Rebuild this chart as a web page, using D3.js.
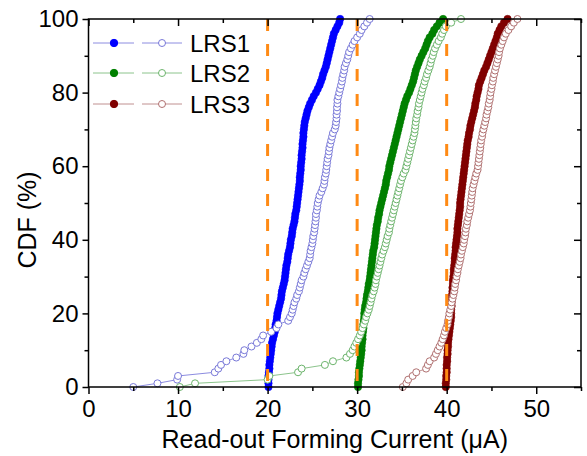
<!DOCTYPE html>
<html><head><meta charset="utf-8">
<script src="https://cdn.jsdelivr.net/npm/d3@7/dist/d3.min.js"></script>
<style>
body{margin:0;background:#fff}
svg{display:block}
text{font-family:"Liberation Sans",Arial,Helvetica,sans-serif;fill:#000}
</style>
</head><body>
<svg id="chart" width="587" height="456"></svg>
<script>
// ---- data (x = read-out forming current in uA, sorted; CDF from rank) ----
const seriesNames = ["LRS1", "LRS2", "LRS3"];

const lrs1Filled = [20.1,20.1,20.1,20.1,20.15,20.2,20.2,20.25,20.3,20.35,
  20.4,20.45,20.5,20.6,20.7,20.8,20.85,20.9,21.0,21.05,
  21.1,21.2,21.3,21.4,21.5,21.55,21.6,21.7,21.8,21.9,
  21.95,22.0,22.05,22.1,22.2,22.25,22.3,22.4,22.5,22.55,
  22.6,22.7,22.75,22.8,22.9,23.0,23.05,23.1,23.2,23.25,
  23.3,23.35,23.4,23.45,23.5,23.55,23.6,23.6,23.65,23.7,
  23.7,23.75,23.8,23.8,23.85,23.9,23.9,23.95,24.0,24.0,
  24.05,24.1,24.15,24.25,24.35,24.45,24.6,24.75,24.95,25.15,
  25.4,25.6,25.8,25.95,26.1,26.2,26.35,26.5,26.6,26.7,
  26.8,26.9,27.0,27.1,27.2,27.3,27.4,27.6,27.8,28.0,28.1];

const lrs1Open = [5.0,7.7,9.9,10.0,14.1,14.5,14.8,15.4,16.5,17.3,
  17.4,18.2,18.8,19.3,19.5,20.4,21.0,21.2,22.3,22.5,
  22.7,22.8,22.9,23.0,23.2,23.3,23.5,23.6,23.7,23.8,
  24.0,24.1,24.25,24.4,24.55,24.7,24.75,24.8,24.9,25.0,
  25.05,25.1,25.2,25.25,25.3,25.35,25.4,25.4,25.5,25.55,
  25.6,25.7,25.8,26.0,26.15,26.3,26.35,26.4,26.5,26.55,
  26.6,26.65,26.7,26.8,26.85,26.9,27.0,27.1,27.2,27.3,
  27.5,27.6,27.65,27.7,27.7,27.75,27.75,27.8,27.8,27.9,
  28.0,28.1,28.2,28.3,28.35,28.45,28.55,28.6,28.75,28.9,
  29.0,29.1,29.3,29.5,29.7,30.0,30.3,30.5,30.8,31.1,31.4];

const lrs2Filled = [30.1,30.1,30.15,30.2,30.2,30.25,30.3,30.35,30.4,30.45,
  30.5,30.5,30.55,30.6,30.6,30.65,30.7,30.7,30.75,30.8,
  30.8,30.85,30.9,31.0,31.05,31.1,31.2,31.25,31.3,31.4,
  31.45,31.5,31.55,31.6,31.65,31.7,31.75,31.8,31.9,31.95,
  32.0,32.05,32.1,32.15,32.2,32.3,32.35,32.45,32.5,32.6,
  32.7,32.8,32.9,33.0,33.1,33.2,33.25,33.35,33.45,33.55,
  33.6,33.7,33.8,33.9,34.0,34.1,34.2,34.3,34.4,34.5,
  34.6,34.7,34.8,34.9,35.0,35.1,35.2,35.3,35.45,35.6,
  35.8,35.95,36.1,36.25,36.35,36.45,36.55,36.7,36.85,37.0,
  37.2,37.4,37.6,37.75,37.9,38.1,38.4,38.6,38.9,39.2,39.6];

const lrs2Open = [10.2,11.9,20.0,20.2,23.4,23.8,26.4,27.3,28.8,29.2,
  29.5,29.7,29.9,30.1,30.3,30.45,30.6,30.75,30.9,31.0,
  31.15,31.3,31.4,31.5,31.6,31.7,31.85,31.95,32.05,32.1,
  32.2,32.3,32.4,32.5,32.6,32.7,32.8,32.95,33.1,33.2,
  33.3,33.4,33.55,33.6,33.7,33.8,33.9,34.0,34.1,34.2,
  34.3,34.4,34.5,34.6,34.7,34.8,34.9,35.05,35.2,35.4,
  35.5,35.6,35.7,35.8,35.9,36.0,36.1,36.2,36.3,36.4,
  36.45,36.5,36.55,36.6,36.7,36.75,36.85,36.9,37.0,37.1,
  37.2,37.3,37.45,37.55,37.7,37.8,37.95,38.1,38.2,38.3,
  38.45,38.55,38.7,38.9,39.1,39.35,39.5,39.7,39.9,40.5,41.6];

const lrs3Filled = [39.9,39.9,39.95,39.95,40.0,40.0,40.0,40.05,40.05,40.1,
  40.1,40.15,40.15,40.2,40.25,40.3,40.35,40.4,40.45,40.5,
  40.5,40.5,40.55,40.55,40.6,40.6,40.65,40.65,40.7,40.7,
  40.75,40.8,40.8,40.85,40.9,40.9,40.95,41.0,41.0,41.05,
  41.1,41.15,41.2,41.2,41.25,41.3,41.35,41.4,41.45,41.5,
  41.5,41.55,41.6,41.65,41.7,41.75,41.8,41.85,41.9,41.95,
  42.0,42.05,42.1,42.15,42.2,42.25,42.3,42.35,42.45,42.5,
  42.6,42.65,42.75,42.85,42.95,43.05,43.15,43.2,43.3,43.35,
  43.45,43.55,43.6,43.75,43.9,44.05,44.2,44.4,44.55,44.7,
  44.85,45.0,45.15,45.3,45.45,45.6,45.7,45.9,46.1,46.4,46.8];

const lrs3Open = [35.1,35.5,35.7,36.2,36.6,37.7,37.9,38.1,38.6,38.8,
  39.0,39.2,39.4,39.55,39.7,39.8,39.95,40.1,40.15,40.25,
  40.3,40.4,40.5,40.55,40.65,40.75,40.85,40.9,40.95,41.05,
  41.1,41.2,41.25,41.35,41.45,41.55,41.6,41.7,41.8,41.9,
  41.95,42.05,42.1,42.15,42.25,42.3,42.4,42.5,42.6,42.65,
  42.7,42.75,42.8,42.85,42.9,43.0,43.1,43.2,43.3,43.45,
  43.5,43.55,43.6,43.65,43.7,43.75,43.8,43.85,43.95,44.0,
  44.1,44.2,44.3,44.4,44.45,44.55,44.65,44.7,44.8,44.85,
  44.9,45.0,45.05,45.15,45.2,45.3,45.4,45.5,45.6,45.7,
  45.8,45.85,45.95,46.1,46.25,46.4,46.6,46.9,47.2,47.5,47.9];

const xTicks = [0, 10, 20, 30, 40, 50];
const xMinorTicks = [5, 15, 25, 35, 45, 55];
const yTicks = [0, 20, 40, 60, 80, 100];
const yMinorTicks = [10, 30, 50, 70, 90];
const refLines = [20, 30, 40];
const xTitle = "Read-out Forming Current (\u03bcA)";
const yTitle = "CDF (%)";

// ---- styles ----
const fillColors = ["#0000ff", "#008000", "#800000"];
const openColors = ["#7878d8", "#6cb46c", "#b07070"];
const lineColors = ["#8c8ce0", "#8cc48c", "#c09090"];

const svg = d3.select("#chart");
const x = d3.scaleLinear().domain([0, 55]).range([88.5, 581]);
const y = d3.scaleLinear().domain([0, 100]).range([387, 19]);

const filled = [lrs1Filled, lrs2Filled, lrs3Filled];
const open = [lrs1Open, lrs2Open, lrs3Open];
const toPts = arr => arr.map((v, i) => ({x: v, p: i * 100 / (arr.length - 1)}));

const line = d3.line().x(d => x(d.x)).y(d => y(d.p));
const plot = svg.append("g");

// connecting lines
[...filled, ...open].forEach((arr, k) => {
  plot.append("path").datum(toPts(arr))
    .attr("fill", "none").attr("stroke", lineColors[k % 3]).attr("stroke-width", 1)
    .attr("d", line);
});
// filled markers
filled.forEach((arr, k) => {
  plot.append("g").selectAll("circle").data(toPts(arr)).join("circle")
    .attr("cx", d => x(d.x)).attr("cy", d => y(d.p)).attr("r", 3.7)
    .attr("fill", fillColors[k]).attr("stroke", fillColors[k]).attr("stroke-width", 0.6);
});
// open markers
open.forEach((arr, k) => {
  plot.append("g").selectAll("circle").data(toPts(arr)).join("circle")
    .attr("cx", d => x(d.x)).attr("cy", d => y(d.p)).attr("r", 3.5)
    .attr("fill", "#fff").attr("stroke", openColors[k]).attr("stroke-width", 1);
});
// reference dashed lines
svg.append("g").selectAll("line").data(refLines).join("line")
  .attr("x1", d => x(d)).attr("x2", d => x(d))
  .attr("y1", y(100)).attr("y2", y(0))
  .attr("stroke", "#ff8a14").attr("stroke-width", 3)
  .attr("stroke-dasharray", "12,13");

// ---- axes ----
function styleAxis(g) {
  g.select(".domain").remove();
  g.selectAll(".tick line").attr("stroke", "#000").attr("stroke-width", 1.5);
  g.selectAll("text").style("font-size", "24px").attr("fill", "#000");
}
const fmt = d3.format("d");
svg.append("g").attr("transform", `translate(0,${y(0)})`)
  .call(d3.axisBottom(x).tickValues(xTicks).tickSize(7).tickPadding(6).tickFormat(fmt)).call(styleAxis);
svg.append("g").attr("transform", `translate(0,${y(0)})`)
  .call(d3.axisBottom(x).tickValues(xMinorTicks).tickSize(4).tickFormat("")).call(styleAxis);
svg.append("g").attr("transform", `translate(0,${y(100)})`)
  .call(d3.axisTop(x).tickValues(xTicks).tickSize(-7).tickFormat("")).call(styleAxis);
svg.append("g").attr("transform", `translate(0,${y(100)})`)
  .call(d3.axisTop(x).tickValues(xMinorTicks).tickSize(-4).tickFormat("")).call(styleAxis);
svg.append("g").attr("transform", `translate(${x(0)},0)`)
  .call(d3.axisLeft(y).tickValues(yTicks).tickSize(6).tickPadding(4).tickFormat(fmt)).call(styleAxis);
svg.append("g").attr("transform", `translate(${x(0)},0)`)
  .call(d3.axisLeft(y).tickValues(yMinorTicks).tickSize(4).tickFormat("")).call(styleAxis);
svg.append("g").attr("transform", `translate(${x(55)},0)`)
  .call(d3.axisRight(y).tickValues(yTicks).tickSize(-7).tickFormat("")).call(styleAxis);
svg.append("g").attr("transform", `translate(${x(55)},0)`)
  .call(d3.axisRight(y).tickValues(yMinorTicks).tickSize(-4).tickFormat("")).call(styleAxis);

svg.append("rect").attr("x", x(0)).attr("y", y(100))
  .attr("width", x(55) - x(0)).attr("height", y(0) - y(100))
  .attr("fill", "none").attr("stroke", "#000").attr("stroke-width", 1.5);

svg.append("text").attr("x", (x(0) + x(55)) / 2).attr("y", 448)
  .attr("text-anchor", "middle").style("font-size", "25px").text(xTitle);
svg.append("text").attr("transform", "translate(36,220) rotate(-90)")
  .attr("text-anchor", "middle").style("font-size", "25px").text(yTitle);

// ---- legend ----
const leg = svg.append("g");
const rowY = [43, 73, 104];
seriesNames.forEach((name, k) => {
  const g = leg.append("g").attr("transform", `translate(0,${rowY[k]})`);
  g.append("line").attr("x1", 93).attr("x2", 134).attr("stroke", lineColors[k]).attr("stroke-width", 1);
  g.append("line").attr("x1", 142).attr("x2", 182).attr("stroke", lineColors[k]).attr("stroke-width", 1);
  g.append("circle").attr("cx", 114).attr("r", 3.7).attr("fill", fillColors[k]).attr("stroke", fillColors[k]);
  g.append("circle").attr("cx", 162).attr("r", 3.5).attr("fill", "#fff").attr("stroke", openColors[k]);
  g.append("text").attr("x", 190).attr("y", 0).attr("dy", "0.36em")
    .style("font-size", "24px").text(name);
});
</script>
</body></html>
